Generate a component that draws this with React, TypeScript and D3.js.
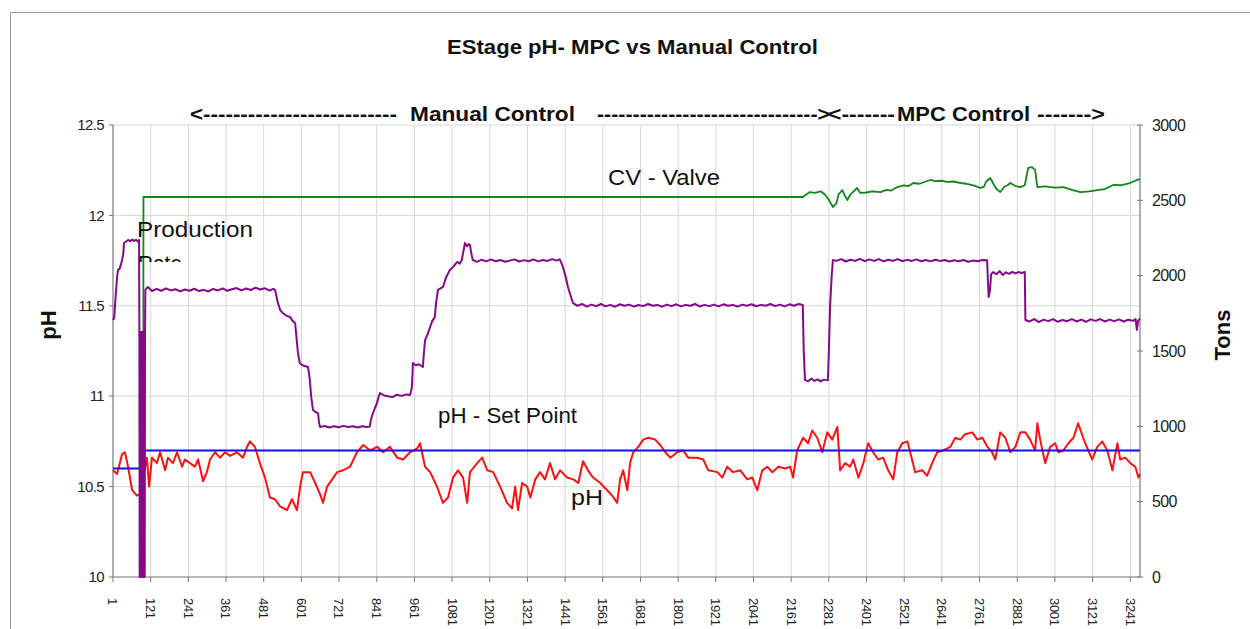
import React from 'react';
import * as d3 from 'd3';

// ---------- data ----------
const xTickLabels = [1,121,241,361,481,601,721,841,961,1081,1201,1321,1441,1561,1681,1801,1921,2041,2161,2281,2401,2521,2641,2761,2881,3001,3121,3241];
const phTicks = [10, 10.5, 11, 11.5, 12, 12.5];
const phTickLabels = ['10', '10.5', '11', '11.5', '12', '12.5'];
const tonsTicks = [0, 500, 1000, 1500, 2000, 2500, 3000];

// pH (left axis) [sample index, pH]
const phSeries: [number, number][] = [
  [1,10.59],[14,10.57],[30,10.68],[39,10.69],[49,10.61],[62,10.48],[77,10.45],[87,10.46],[109,10.66],[116,10.50],[125,10.66],[141,10.63],[151,10.69],[167,10.59],[176,10.66],[192,10.63],[205,10.69],[221,10.61],[230,10.65],[246,10.63],[262,10.61],[272,10.65],[288,10.53],[300,10.58],[310,10.65],[326,10.69],[342,10.66],[358,10.69],[374,10.67],[396,10.69],[415,10.66],[428,10.72],[437,10.75],[453,10.72],[469,10.63],[485,10.55],[501,10.44],[517,10.43],[533,10.39],[555,10.37],[571,10.43],[587,10.37],[597,10.50],[606,10.58],[629,10.58],[645,10.52],[660,10.46],[670,10.41],[683,10.50],[699,10.54],[715,10.58],[734,10.59],[756,10.61],[778,10.69],[798,10.73],[820,10.70],[842,10.72],[861,10.69],[883,10.72],[906,10.66],[925,10.65],[947,10.69],[969,10.71],[979,10.74],[995,10.61],[1011,10.58],[1033,10.50],[1052,10.41],[1068,10.44],[1084,10.55],[1100,10.59],
  [1116,10.55],[1129,10.41],[1138,10.58],[1161,10.63],[1177,10.66],[1193,10.59],[1212,10.58],[1234,10.50],[1256,10.41],[1272,10.38],[1282,10.50],[1291,10.37],[1304,10.52],[1320,10.50],[1330,10.44],[1346,10.54],[1361,10.58],[1377,10.54],[1393,10.63],[1409,10.54],[1425,10.59],[1447,10.55],[1467,10.54],[1483,10.52],[1498,10.64],[1514,10.59],[1530,10.55],[1553,10.52],[1575,10.48],[1591,10.45],[1607,10.41],[1616,10.54],[1626,10.59],[1639,10.48],[1648,10.63],[1658,10.69],[1674,10.72],[1690,10.76],[1706,10.77],[1728,10.76],[1744,10.73],[1760,10.69],[1776,10.66],[1798,10.69],[1817,10.70],[1833,10.66],[1862,10.66],[1881,10.65],[1897,10.59],[1926,10.58],[1942,10.55],[1957,10.61],[1976,10.58],[1999,10.59],[2021,10.54],[2037,10.55],[2053,10.48],[2069,10.59],[2085,10.61],[2101,10.58],[2120,10.61],[2142,10.60],[2158,10.61],[2167,10.55],
  [2180,10.70],[2199,10.77],[2215,10.74],[2228,10.81],[2244,10.77],[2260,10.69],[2276,10.80],[2292,10.76],[2308,10.83],[2317,10.59],[2333,10.63],[2349,10.61],[2359,10.65],[2375,10.55],[2391,10.63],[2406,10.74],[2422,10.69],[2438,10.65],[2454,10.66],[2470,10.59],[2486,10.54],[2499,10.69],[2515,10.74],[2531,10.75],[2540,10.69],[2556,10.58],[2579,10.59],[2594,10.56],[2610,10.63],[2626,10.69],[2645,10.70],[2668,10.72],[2684,10.77],[2700,10.76],[2715,10.79],[2738,10.80],[2754,10.76],[2770,10.77],[2786,10.72],[2801,10.69],[2811,10.65],[2827,10.80],[2843,10.77],[2859,10.69],[2875,10.72],[2891,10.80],[2907,10.80],[2922,10.76],[2938,10.70],[2945,10.85],[2954,10.76],[2970,10.63],[2986,10.72],[3002,10.74],[3012,10.69],[3028,10.70],[3044,10.74],[3060,10.77],[3075,10.85],[3091,10.77],[3107,10.70],[3120,10.65],[3136,10.72],[3152,10.75],[3168,10.70],[3184,10.59],[3200,10.74],[3209,10.65],[3225,10.66],[3241,10.63],[3257,10.61],[3267,10.55],[3272,10.57]
];

// pH set point (left axis)
const setPointSeries: [number, number][] = [[1,10.6],[97,10.6],[98,10.7],[3272,10.7]];

// Production rate (right axis, tons)
const productionSeries: [number, number][] = [
  [1,1706],[5,1720],[9,1850],[14,1991],[17,2038],[22,2045],[27,2080],[30,2104],[34,2150],[36,2217],[42,2225],[49,2237],[56,2228],[62,2240],[68,2230],[74,2238],[81,2226],[84,2237],
  [85,1626],[86,0],[87,1626],[88,0],[89,1626],[90,0],[91,1626],[92,0],[93,1626],[94,0],[95,1626],[96,0],[97,1626],[98,0],[99,1626],[100,0],[101,1626],[102,0],[103,1626],
  [104,1905],[112,1925],[125,1898],[140,1912],[155,1900],[170,1915],[185,1902],[200,1910],[215,1896],[230,1908],[245,1900],[260,1913],[275,1898],[290,1906],[305,1895],[320,1912],[335,1902],[350,1915],[365,1900],[380,1910],[395,1918],[410,1902],[425,1915],[440,1905],[455,1920],[470,1908],[485,1916],[500,1900],[511,1912],
  [517,1905],[522,1860],[526,1819],[534,1770],[542,1752],[552,1735],[565,1726],[573,1700],[581,1686],[585,1600],[590,1487],[596,1420],[603,1407],[612,1400],[622,1394],[626,1340],[628,1307],[632,1200],[638,1108],[646,1095],[654,1088],[657,1030],[660,996],[675,1002],[690,992],[705,1000],[720,994],[735,1003],[750,995],[765,1001],[780,992],[795,1000],[810,995],[819,998],[822,1040],[829,1088],[835,1120],[842,1155],[846,1190],[851,1221],[865,1205],[880,1198],[893,1195],[905,1210],[920,1202],[935,1212],[947,1208],[950,1230],[953,1261],[955,1350],[956,1420],[965,1405],[975,1412],[988,1394],[991,1480],[995,1573],[1003,1610],[1011,1659],[1018,1700],[1026,1726],[1030,1820],[1036,1905],[1044,1915],[1052,1925],[1062,1990],[1074,2038],[1085,2060],[1097,2091],[1105,2080],[1112,2104],[1116,2150],[1122,2217],[1128,2195],[1134,2210],[1138,2203],[1142,2150],[1147,2104],
  [1160,2092],[1175,2106],[1190,2095],[1205,2108],[1220,2096],[1235,2104],[1250,2092],[1265,2100],[1280,2108],[1295,2094],[1310,2103],[1325,2096],[1340,2108],[1355,2095],[1370,2104],[1385,2098],[1400,2110],[1415,2100],[1424,2108],[1430,2080],[1434,2058],[1442,2000],[1450,1925],[1458,1870],[1466,1819],
  [1480,1800],[1495,1812],[1510,1795],[1525,1808],[1540,1798],[1555,1812],[1570,1796],[1585,1806],[1600,1794],[1615,1810],[1630,1800],[1645,1808],[1660,1795],[1675,1805],[1690,1798],[1705,1812],[1720,1800],[1735,1806],[1750,1794],[1765,1808],[1780,1798],[1795,1810],[1810,1796],[1825,1806],[1840,1800],[1855,1812],[1870,1795],[1885,1806],[1900,1798],[1915,1808],[1930,1796],[1945,1810],[1960,1800],[1975,1806],[1990,1795],[2005,1808],[2020,1800],[2035,1810],[2050,1797],[2065,1806],[2080,1800],[2095,1812],[2110,1798],[2125,1808],[2140,1796],[2155,1810],[2170,1800],[2185,1812],[2198,1805],
  [2201,1500],[2205,1307],[2215,1300],[2225,1318],[2235,1302],[2245,1312],[2255,1298],[2265,1310],[2278,1305],[2281,1500],[2285,1800],[2290,2000],[2294,2104],
  [2305,2098],[2320,2110],[2335,2094],[2350,2106],[2365,2098],[2380,2112],[2395,2096],[2410,2108],[2425,2098],[2440,2110],[2455,2095],[2470,2106],[2485,2098],[2500,2110],[2515,2096],[2530,2105],[2545,2098],[2560,2108],[2575,2096],[2590,2104],[2605,2095],[2620,2106],[2635,2098],[2650,2104],[2665,2094],[2680,2102],[2695,2096],[2710,2104],[2725,2092],[2740,2100],[2755,2096],[2770,2104],[2785,2102],
  [2788,1950],[2790,1858],[2794,1900],[2798,2010],[2804,2024],[2815,2010],[2825,2030],[2835,2004],[2845,2022],[2855,2012],[2865,2025],[2875,2015],[2885,2024],[2895,2018],[2905,2024],
  [2907,1706],[2920,1696],[2935,1712],[2950,1692],[2965,1708],[2980,1698],[2995,1712],[3010,1694],[3025,1706],[3040,1698],[3055,1712],[3070,1696],[3085,1708],[3100,1694],[3115,1710],[3130,1700],[3145,1712],[3160,1696],[3175,1708],[3190,1698],[3205,1710],[3220,1696],[3235,1708],[3250,1700],[3258,1712],[3262,1640],[3266,1700],[3272,1715]
];

// CV - Valve (right axis, tons)
const cvValveSeries: [number, number][] = [
  [97,0],[98,2522],[2198,2522],[2210,2540],[2221,2555],[2237,2549],[2255,2560],[2270,2535],[2282,2500],[2294,2456],[2305,2480],[2312,2540],[2324,2568],[2332,2530],[2340,2502],[2350,2540],[2360,2560],[2371,2582],[2381,2549],[2400,2552],[2420,2560],[2445,2555],[2465,2570],[2480,2565],[2499,2588],[2520,2600],[2535,2595],[2550,2615],[2570,2610],[2590,2625],[2604,2635],[2620,2628],[2640,2630],[2658,2622],[2680,2625],[2700,2615],[2720,2610],[2745,2598],[2763,2582],[2775,2590],[2782,2625],[2795,2648],[2805,2610],[2815,2575],[2827,2555],[2840,2590],[2850,2600],[2859,2615],[2875,2595],[2891,2588],[2905,2600],[2916,2715],[2928,2720],[2938,2701],[2945,2588],[2970,2592],[3000,2585],[3028,2588],[3055,2570],[3082,2555],[3110,2560],[3136,2568],[3160,2575],[3187,2602],[3210,2600],[3240,2615],[3262,2635],[3272,2640]
];

const FONT = 'Liberation Sans, Arial, Helvetica, sans-serif';

export default function App() {
  const W = 1250, H = 629;
  const left = 113, right = 1140, top = 125, bottom = 577;
  const x = d3.scaleLinear().domain([1, 3272]).range([left, right]);
  const yPh = d3.scaleLinear().domain([10, 12.5]).range([bottom, top]);
  const yT = d3.scaleLinear().domain([0, 3000]).range([bottom, top]);
  const linePh = d3.line<[number, number]>().x(d => x(d[0])).y(d => yPh(d[1]));
  const lineT = d3.line<[number, number]>().x(d => x(d[0])).y(d => yT(d[1]));

  const label = (s: string, px: number, py: number, len: number, size = 22, weight: any = 'normal', extra: any = {}) => (
    <text x={px} y={py} fontSize={size} fontWeight={weight} fontFamily={FONT} fill="#111"
      textLength={len} lengthAdjust="spacingAndGlyphs" {...extra}>{s}</text>
  );

  return (
    <svg width={W} height={H} style={{ position: 'absolute', left: 0, top: 0, background: '#fff' }}>
      <defs>
        <clipPath id="rateClip"><rect x={0} y={0} width={W} height={262} /></clipPath>
      </defs>
      <rect x={0} y={0} width={W} height={H} fill="#fff" />
      {/* outer frame */}
      <line x1={10.5} y1={12.5} x2={W} y2={12.5} stroke="#9a9a9a" />
      <line x1={10.5} y1={12.5} x2={10.5} y2={H} stroke="#9a9a9a" />

      {/* gridlines */}
      {phTicks.slice(1).map(t => (
        <line key={'hg' + t} x1={left} x2={right} y1={yPh(t)} y2={yPh(t)} stroke="#d6d6d6" />
      ))}
      {xTickLabels.slice(1).map(t => (
        <line key={'vg' + t} x1={x(t)} x2={x(t)} y1={top} y2={bottom} stroke="#d6d6d6" />
      ))}

      {/* axes */}
      <line x1={left} x2={left} y1={top} y2={bottom} stroke="#777" strokeWidth={1.2} />
      <line x1={right} x2={right} y1={top} y2={bottom} stroke="#777" strokeWidth={1.2} />
      <line x1={left} x2={right} y1={bottom} y2={bottom} stroke="#777" strokeWidth={1.2} />
      {phTicks.map((t, i) => (
        <g key={'lt' + t}>
          <line x1={left - 4} x2={left} y1={yPh(t)} y2={yPh(t)} stroke="#777" />
          <text x={104} y={yPh(t)} dy="0.35em" textAnchor="end" fontSize={15} fontFamily={FONT} fill="#222" letterSpacing={-0.6}>{phTickLabels[i]}</text>
        </g>
      ))}
      {tonsTicks.map(t => (
        <g key={'rt' + t}>
          <line x1={right - 3} x2={right + 3} y1={yT(t)} y2={yT(t)} stroke="#777" />
          <text x={1152} y={yT(t)} dy="0.35em" textAnchor="start" fontSize={16} fontFamily={FONT} fill="#222" letterSpacing={-0.6}>{String(t)}</text>
        </g>
      ))}
      {xTickLabels.map(t => (
        <g key={'xt' + t}>
          <line x1={x(t)} x2={x(t)} y1={bottom} y2={bottom + 5} stroke="#777" />
          <text transform={`translate(${x(t)},598) rotate(90)`} dy="0.35em" textAnchor="start" fontSize={13} fontFamily={FONT} fill="#222" letterSpacing={-0.3}>{String(t)}</text>
        </g>
      ))}

      {/* series */}
      <path d={linePh(phSeries) || ''} fill="none" stroke="#ff1010" strokeWidth={2} strokeLinejoin="round" />
      <path d={linePh(setPointSeries) || ''} fill="none" stroke="#1010e0" strokeWidth={2} />
      <path d={lineT(cvValveSeries) || ''} fill="none" stroke="#13861a" strokeWidth={1.8} strokeLinejoin="round" />
      <path d={lineT(productionSeries) || ''} fill="none" stroke="#850a8a" strokeWidth={2} strokeLinejoin="round" />

      {/* titles and annotations */}
      {label('EStage pH- MPC vs Manual Control', 447, 54, 371, 21, 'bold')}
      {label('<--------------------------', 190, 121, 207, 21, 'bold')}
      {label('Manual  Control', 410, 121, 165, 21, 'bold')}
      {label('------------------------------->', 597, 121, 233, 21, 'bold')}
      {label('<-------', 828, 121, 67, 21, 'bold')}
      {label('MPC Control', 897, 121, 133, 21, 'bold')}
      {label('------->', 1037, 121, 68, 21, 'bold')}
      {label('CV - Valve', 608, 185, 112)}
      {label('Production', 137, 237, 116)}
      <g clipPath="url(#rateClip)">{label('Rate', 138, 271, 44)}</g>
      {label('pH - Set Point', 438, 423, 139)}
      {label('pH', 571, 505, 32)}
      <text transform="translate(56,325) rotate(-90)" textAnchor="middle" fontSize={22} fontWeight="bold" fontFamily={FONT} fill="#111">pH</text>
      <text transform="translate(1230,335) rotate(-90)" textAnchor="middle" fontSize={22} fontWeight="bold" fontFamily={FONT} fill="#111">Tons</text>
    </svg>
  );
}
